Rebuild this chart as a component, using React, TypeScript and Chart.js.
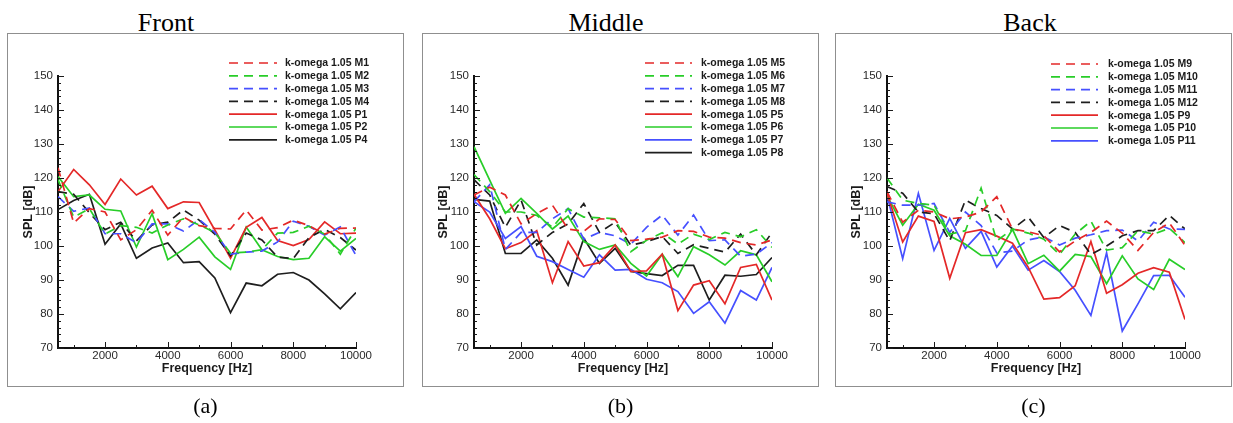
import React, { useEffect, useRef } from 'react';
import { Chart, registerables } from 'chart.js';

Chart.register(...registerables);

// ---------- data ----------
const freqs = [500, 1000, 1500, 2000, 2500, 3000, 3500, 4000, 4500, 5000, 5500, 6000, 6500, 7000, 7500, 8000, 8500, 9000, 9500, 10000];
const xTickValues = [2000, 4000, 6000, 8000, 10000];
const yTickValues = [70, 80, 90, 100, 110, 120, 130, 140, 150];

// Front
const frontM1 = [123, 106.8, 111, 110, 101.8, 104.8, 110.5, 103.2, 108.5, 106, 105.2, 105, 110.6, 104.7, 105.4, 107.6, 106, 103.5, 105.2, 105.3];
const frontM2 = [119.5, 108.5, 111, 103.5, 106, 105.5, 103.8, 106.2, 108, 106.2, 104, 97.9, 98.2, 98.9, 103.8, 104, 105.8, 103.5, 97.6, 105.3];
const frontM3 = [114.5, 110.2, 111.2, 103.6, 103.6, 101, 106.5, 106.5, 104.4, 107.8, 104, 97.6, 98.2, 98.5, 101.2, 107.3, 105.8, 103.2, 105.6, 97.2];
const frontM4 = [116, 115.2, 109.8, 104.8, 107, 101.5, 106.2, 107, 110.6, 107.6, 103.5, 97.1, 103.8, 101.8, 96.7, 96.3, 102.5, 104.9, 102.5, 98.8];
const frontP1 = [116, 122.5, 118, 112.2, 119.7, 115, 117.6, 111, 113, 112.8, 104.7, 96.4, 105.5, 108.4, 101.6, 100.1, 101.9, 107.1, 103.6, 103.8];
const frontP2 = [120.4, 114.5, 115, 110.8, 110.3, 99.7, 109.5, 96, 99, 102.6, 96.8, 93.1, 105.6, 98.9, 96.9, 96, 96.4, 102.7, 98.5, 102.2];
const frontP4 = [110.7, 113.4, 115.2, 100.5, 106.5, 96.4, 99.4, 100.9, 95.1, 95.4, 90.6, 80.4, 89.1, 88.3, 91.7, 92.2, 90, 85.9, 81.5, 86.3];

// Middle
const midM5 = [115, 117.3, 115, 106.5, 109.5, 112, 105, 104.3, 108, 107.8, 101.6, 102, 102.6, 104.5, 104.3, 102.6, 102.3, 101, 100.3, 101.8];
const midM6 = [121, 116, 110, 110, 109, 105.5, 111, 108.5, 108.3, 108, 98.3, 101.7, 103.9, 100.6, 103.5, 101.9, 104, 102.7, 104.8, 99.6];
const midM7 = [113, 118, 99, 104, 104, 108, 111, 102, 104, 103, 100.5, 105.5, 109.1, 103.2, 109.1, 101.6, 101.8, 97, 97.6, 101];
const midM8 = [119.5, 115, 105.5, 113.5, 100.3, 104, 106.5, 112.5, 104, 107, 100.2, 101.3, 102.8, 97.8, 100.4, 99.3, 98.2, 103.5, 97.4, 104];
const midP5 = [115.2, 108, 99.2, 101, 104.5, 89.2, 101.3, 94.1, 95.1, 100.3, 92.5, 92.7, 97.6, 81, 88.5, 89.8, 83, 93.7, 94.6, 84.1];
const midP6 = [129.2, 119.4, 109.6, 114, 109.6, 105, 108.8, 101.3, 99, 100.3, 94.9, 91.2, 97.6, 91, 99.8, 97.4, 94.4, 98.6, 97.4, 89.5];
const midP7 = [113, 110, 102.2, 105.7, 97, 95.4, 93.1, 90.8, 97.4, 92.9, 93.1, 90.2, 89.2, 86.6, 80.2, 83.6, 77.3, 86.9, 84.1, 93.7];
const midP8 = [113.7, 113.2, 97.8, 97.8, 101.8, 96.4, 88.5, 102.3, 94.9, 99.3, 92.5, 91.9, 91.3, 94.3, 94.3, 84.1, 91.4, 91.1, 91.6, 96.6];

// Back
const backM9 = [116, 107, 110.5, 110, 108, 108.5, 110, 114.5, 105, 104.2, 103, 98.3, 101.5, 104, 107.3, 103.8, 98.7, 104, 106.8, 100.2];
const backM10 = [120, 113.5, 112.5, 112, 103.5, 104.5, 117, 101.5, 105, 103.8, 102, 97.5, 103.5, 107.3, 98.8, 99.5, 104.5, 103.5, 105.2, 101];
const backM11 = [113, 112, 112, 112.5, 104, 110, 106, 98, 98.5, 101.8, 102.7, 100.3, 102.3, 103.3, 104.5, 104.7, 101.5, 107, 105, 104.9];
const backM12 = [117.5, 115.5, 110, 109.5, 101.5, 113.5, 111, 109, 105, 108.5, 102.5, 106, 104, 97.5, 100, 103, 104.5, 104.5, 109, 105];
const backP9 = [115.5, 101.2, 108.8, 107.2, 90.5, 103.9, 104.8, 102.9, 100.8, 93.8, 84.4, 84.8, 88.3, 101.3, 86.1, 88.6, 92, 93.6, 92.3, 78.4];
const backP10 = [114.8, 106.1, 112.3, 110.5, 103, 100.5, 97.2, 97.2, 104.9, 94.8, 97.3, 92.6, 97.5, 96.9, 88.9, 97.1, 90.3, 87.2, 96.1, 93.1];
const backP11 = [115, 96.3, 115.5, 98.7, 108.1, 99.3, 104.3, 93.8, 100, 92.9, 95.7, 92.5, 87, 79.6, 98, 75, 83, 91.3, 91.4, 84.9];

// ---------- styles ----------
const RED = 'rgb(228,40,40)';
const GREEN = 'rgb(40,205,40)';
const BLUE = 'rgb(70,80,255)';
const BLACK = 'rgb(30,30,30)';

type Series = { label: string; data: number[]; color: string; dashed: boolean };

type PanelDef = {
  title: string;
  caption: string;
  boxLeft: number;
  titleX: number;
  plotLeft: number;
  plotRight: number;
  legend: { x0: number; x1: number; textX: number; y0: number };
  series: Series[];
};

const PANELS: PanelDef[] = [
  {
    title: 'Front', caption: '(a)', boxLeft: 7, titleX: 166, plotLeft: 51, plotRight: 349,
    legend: { x0: 222, x1: 270, textX: 278, y0: 30 },
    series: [
      { label: 'k-omega 1.05 M1', data: frontM1, color: RED, dashed: true },
      { label: 'k-omega 1.05 M2', data: frontM2, color: GREEN, dashed: true },
      { label: 'k-omega 1.05 M3', data: frontM3, color: BLUE, dashed: true },
      { label: 'k-omega 1.05 M4', data: frontM4, color: BLACK, dashed: true },
      { label: 'k-omega 1.05 P1', data: frontP1, color: RED, dashed: false },
      { label: 'k-omega 1.05 P2', data: frontP2, color: GREEN, dashed: false },
      { label: 'k-omega 1.05 P4', data: frontP4, color: BLACK, dashed: false },
    ],
  },
  {
    title: 'Middle', caption: '(b)', boxLeft: 422, titleX: 606, plotLeft: 52, plotRight: 350,
    legend: { x0: 223, x1: 270, textX: 279, y0: 30 },
    series: [
      { label: 'k-omega 1.05 M5', data: midM5, color: RED, dashed: true },
      { label: 'k-omega 1.05 M6', data: midM6, color: GREEN, dashed: true },
      { label: 'k-omega 1.05 M7', data: midM7, color: BLUE, dashed: true },
      { label: 'k-omega 1.05 M8', data: midM8, color: BLACK, dashed: true },
      { label: 'k-omega 1.05 P5', data: midP5, color: RED, dashed: false },
      { label: 'k-omega 1.05 P6', data: midP6, color: GREEN, dashed: false },
      { label: 'k-omega 1.05 P7', data: midP7, color: BLUE, dashed: false },
      { label: 'k-omega 1.05 P8', data: midP8, color: BLACK, dashed: false },
    ],
  },
  {
    title: 'Back', caption: '(c)', boxLeft: 835, titleX: 1030, plotLeft: 52, plotRight: 350,
    legend: { x0: 216, x1: 263, textX: 273, y0: 31 },
    series: [
      { label: 'k-omega 1.05 M9', data: backM9, color: RED, dashed: true },
      { label: 'k-omega 1.05 M10', data: backM10, color: GREEN, dashed: true },
      { label: 'k-omega 1.05 M11', data: backM11, color: BLUE, dashed: true },
      { label: 'k-omega 1.05 M12', data: backM12, color: BLACK, dashed: true },
      { label: 'k-omega 1.05 P9', data: backP9, color: RED, dashed: false },
      { label: 'k-omega 1.05 P10', data: backP10, color: GREEN, dashed: false },
      { label: 'k-omega 1.05 P11', data: backP11, color: BLUE, dashed: false },
    ],
  },
];

const BOX_TOP = 33;
const BOX_W = 397;
const BOX_H = 354;
const PLOT_TOP = 43;
const PLOT_BOTTOM = 315;
const SANS = '"Liberation Sans", Arial, Helvetica, sans-serif';

// legend drawn inside the frame, top right
const insideLegend = {
  id: 'insideLegend',
  afterDatasetsDraw(chart: any, _args: any, opts: any) {
    const ctx = chart.ctx as CanvasRenderingContext2D;
    ctx.save();
    chart.data.datasets.forEach((ds: any, i: number) => {
      const y = opts.y0 + i * opts.dy;
      ctx.strokeStyle = ds.borderColor;
      ctx.lineWidth = ds.borderWidth;
      ctx.setLineDash(ds.borderDash || []);
      ctx.beginPath();
      ctx.moveTo(opts.x0, y);
      ctx.lineTo(opts.x1, y);
      ctx.stroke();
      ctx.setLineDash([]);
      ctx.fillStyle = '#1a1a1a';
      ctx.font = `bold 10.5px ${SANS}`;
      ctx.textAlign = 'left';
      ctx.textBaseline = 'middle';
      ctx.fillText(ds.label, opts.textX, y + 0.5);
    });
    ctx.restore();
  },
};

// inward major/minor tick marks
const innerTicks = {
  id: 'innerTicks',
  afterDraw(chart: any) {
    const { ctx, chartArea, scales } = chart;
    const xs = scales.x;
    const ys = scales.y;
    ctx.save();
    ctx.strokeStyle = '#1a1a1a';
    ctx.lineWidth = 1;
    ctx.beginPath();
    for (let v = ys.min; v <= ys.max; v += 2) {
      const py = Math.round(ys.getPixelForValue(v)) + 0.5;
      const len = v % 10 === 0 ? 6 : 3;
      ctx.moveTo(chartArea.left, py);
      ctx.lineTo(chartArea.left + len, py);
    }
    for (let v = 1000; v <= xs.max; v += 1000) {
      const px = Math.round(xs.getPixelForValue(v)) + 0.5;
      const len = v % 2000 === 0 ? 6 : 3;
      ctx.moveTo(px, chartArea.bottom);
      ctx.lineTo(px, chartArea.bottom - len);
    }
    ctx.stroke();
    ctx.restore();
  },
};

function Panel({ def }: { def: PanelDef }) {
  const ref = useRef<HTMLCanvasElement | null>(null);
  useEffect(() => {
    const canvas = ref.current;
    if (!canvas) return;
    const tickFont = { family: SANS, size: 11.5 };
    const titleFont = { family: SANS, size: 12.5, weight: 'bold' as const };
    const chart = new Chart(canvas, {
      type: 'line',
      data: {
        datasets: def.series.map((s) => ({
          label: s.label,
          data: freqs.map((f, i) => ({ x: f, y: s.data[i] })),
          borderColor: s.color,
          backgroundColor: s.color,
          borderWidth: 1.7,
          borderDash: s.dashed ? [9, 6] : [],
          pointRadius: 0,
          tension: 0,
          fill: false,
        })),
      },
      options: {
        responsive: false,
        animation: false,
        devicePixelRatio: 1,
        layout: { padding: { top: PLOT_TOP, right: BOX_W - def.plotRight, bottom: 0, left: 0 } },
        plugins: {
          legend: { display: false },
          tooltip: { enabled: false },
          insideLegend: { x0: def.legend.x0, x1: def.legend.x1, textX: def.legend.textX, y0: def.legend.y0, dy: 12.8 },
        } as any,
        scales: {
          x: {
            type: 'linear',
            min: freqs[0],
            max: freqs[freqs.length - 1],
            afterBuildTicks: (s: any) => { s.ticks = xTickValues.map((v) => ({ value: v })); },
            afterFit: (s: any) => { s.height = BOX_H - PLOT_BOTTOM; },
            grid: { display: false, drawTicks: false },
            border: { display: true, color: '#111', width: 2 },
            ticks: { padding: 1, font: tickFont, color: '#2a2a2a', maxRotation: 0, autoSkip: false, callback: (v: any) => String(v) },
            title: { display: true, text: 'Frequency [Hz]', font: titleFont, color: '#1a1a1a', padding: { top: 0, bottom: 11 } },
          },
          y: {
            type: 'linear',
            min: yTickValues[0],
            max: yTickValues[yTickValues.length - 1],
            afterBuildTicks: (s: any) => { s.ticks = yTickValues.map((v) => ({ value: v })); },
            afterFit: (s: any) => { s.width = def.plotLeft; },
            grid: { display: false, drawTicks: false },
            border: { display: true, color: '#111', width: 2 },
            ticks: { padding: 5, font: tickFont, color: '#2a2a2a', autoSkip: false, callback: (v: any) => String(v) },
            title: { display: true, text: 'SPL [dB]', font: titleFont, color: '#1a1a1a', padding: { top: 14.5, bottom: 0 } },
          },
        },
      },
      plugins: [insideLegend, innerTicks],
    });
    return () => chart.destroy();
  }, [def]);

  return (
    <>
      <div
        style={{
          position: 'absolute', left: def.titleX - 100, top: 9, width: 200, height: 28,
          textAlign: 'center', fontFamily: '"Liberation Serif", "Times New Roman", serif', fontSize: 26, lineHeight: '28px', color: '#000',
        }}
      >
        {def.title}
      </div>
      <canvas
        ref={ref}
        width={BOX_W}
        height={BOX_H}
        style={{ position: 'absolute', left: def.boxLeft, top: BOX_TOP, width: BOX_W, height: BOX_H, display: 'block' }}
      />
      <div
        style={{
          position: 'absolute', left: def.boxLeft, top: BOX_TOP, width: BOX_W, height: BOX_H,
          boxSizing: 'border-box', border: '1px solid #8f8f8f', pointerEvents: 'none',
        }}
      />
      <div
        style={{
          position: 'absolute', left: def.boxLeft, top: 394, width: BOX_W, height: 24,
          textAlign: 'center', fontFamily: '"Liberation Serif", "Times New Roman", serif', fontSize: 22, lineHeight: '24px', color: '#000',
        }}
      >
        {def.caption}
      </div>
    </>
  );
}

export default function App() {
  return (
    <div style={{ position: 'absolute', left: 0, top: 0, width: 1233, height: 423, background: '#fff', overflow: 'hidden' }}>
      {PANELS.map((p) => (
        <Panel key={p.title} def={p} />
      ))}
    </div>
  );
}
